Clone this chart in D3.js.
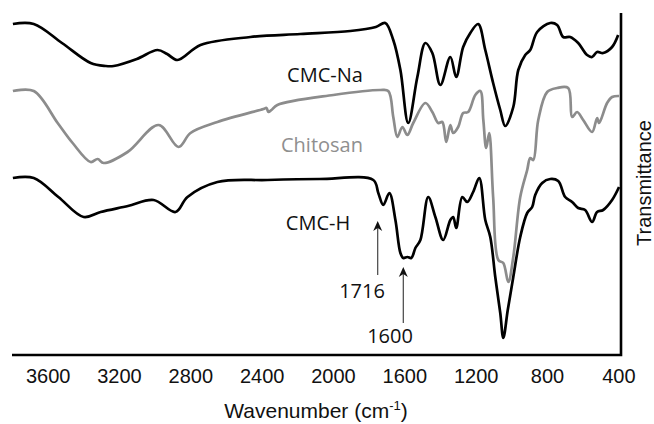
<!DOCTYPE html>
<html>
<head>
<meta charset="utf-8">
<script src="https://cdn.jsdelivr.net/npm/d3@7"></script>
<style>
  body { margin: 0; background: #fff; }
  svg { display: block; }
</style>
</head>
<body>
<svg id="chart" width="654" height="424"></svg>
<script>
// FTIR spectra, transmittance in arbitrary units (curves are offset)
const naWave = [3795, 3678, 3520, 3359, 3275, 3230, 3100, 2984, 2930, 2872, 2743, 2463, 2183, 1903, 1760, 1707,
  1662, 1622, 1578, 1527, 1482, 1443, 1398, 1342, 1309, 1270, 1230, 1186, 1146, 1102, 1062, 1034,
  989, 961, 922, 894, 855, 782, 743, 709, 670, 625, 575, 547, 519, 485, 435, 401];
const naVal = [331, 331, 312, 292, 289, 289, 296, 305, 301, 295, 310, 318, 321, 324, 328, 332,
  315, 285, 232, 278, 312, 302, 270, 298, 278, 308, 322, 331, 305, 272, 245, 229,
  248, 285, 300, 305, 323, 332, 330, 318, 318, 312, 300, 298, 303, 302, 308, 320];

const chiWave = [3795, 3678, 3544, 3460, 3359, 3320, 3286, 3152, 2978, 2866, 2799, 2648, 2390, 2373, 2362, 2345,
  2312, 1998, 1735, 1690, 1662, 1639, 1611, 1583, 1550, 1482, 1443, 1410, 1387, 1365, 1342, 1326,
  1298, 1270, 1242, 1202, 1174, 1157, 1141, 1124, 1102, 1073, 1045, 1017, 989, 950, 911, 894,
  877, 849, 799, 743, 681, 659, 631, 597, 547, 519, 508, 463, 435, 396];
const chiVal = [264, 264, 232, 212, 193, 196, 192, 203, 230, 208, 222, 233, 246, 247, 243, 245,
  250, 260, 265, 264, 238, 218, 228, 220, 232, 252, 243, 232, 233, 213, 230, 222,
  228, 242, 243, 260, 264, 235, 207, 222, 158, 95, 92, 73, 98, 158, 185, 197,
  195, 235, 263, 267, 267, 238, 243, 235, 223, 237, 232, 252, 258, 259];

const hWave = [3795, 3678, 3540, 3398, 3303, 3150, 3006, 2883, 2816, 2648, 2368, 2075, 1774, 1746, 1718, 1684,
  1650, 1622, 1606, 1583, 1561, 1538, 1510, 1466, 1426, 1382, 1342, 1326, 1309, 1275, 1247, 1214,
  1180, 1146, 1118, 1090, 1062, 1045, 1020, 989, 950, 911, 883, 866, 827, 782, 737, 698,
  659, 625, 586, 547, 519, 485, 435, 396];
const hVal = [177, 177, 158, 138, 143, 149, 155, 143, 158, 173, 175, 176, 175, 162, 150, 162,
  135, 102, 97, 98, 97, 107, 115, 158, 138, 115, 135, 138, 127, 158, 153, 163,
  177, 135, 118, 78, 42, 17, 45, 78, 118, 142, 148, 160, 172, 176, 174, 158,
  153, 147, 145, 133, 143, 145, 155, 168];

const xTicks = [3600, 3200, 2800, 2400, 2000, 1600, 1200, 800, 400];

const series = [
  { name: "CMC-Na", wave: naWave, val: naVal, color: "#000", lx: 325, ly: 82 },
  { name: "Chitosan", wave: chiWave, val: chiVal, color: "#8c8c8c", lx: 322, ly: 152 },
  { name: "CMC-H", wave: hWave, val: hVal, color: "#000", lx: 318, ly: 230 }
];

const peaks = [
  { label: "1716", ax: 377.7, y0: 275, y1: 221, tx: 362, ty: 298 },
  { label: "1600", ax: 403.3, y0: 323, y1: 267, tx: 390, ty: 343 }
];

const svg = d3.select("#chart");
const mLeft = 12, mRight = 621, mTop = 13, mBottom = 355;

const x = d3.scaleLinear().domain([3800, 385]).range([mLeft, mRight]);
const y = d3.scaleLinear().domain([0, 342]).range([mBottom, mTop]);

const line = d3.line()
  .x(d => x(d[0]))
  .y(d => y(d[1]))
  .curve(d3.curveCatmullRom.alpha(0.5));

series.forEach(s => {
  const pts = s.wave.map((w, i) => [w, s.val[i]]);
  svg.append("path")
    .datum(pts)
    .attr("fill", "none")
    .attr("stroke", s.color)
    .attr("stroke-width", 2.7)
    .attr("stroke-linejoin", "round")
    .attr("d", line);
  svg.append("text")
    .attr("x", s.lx).attr("y", s.ly)
    .attr("text-anchor", "middle")
    .attr("font-family", "'Open Sans', sans-serif")
    .attr("font-size", 20)
    .attr("fill", s.name == "Chitosan" ? "#8f8f8f" : "#111")
    .text(s.name);
});

// frame: bottom axis and right axis line
const xAxis = svg.append("g")
  .attr("transform", "translate(0," + mBottom + ")")
  .call(d3.axisBottom(x).tickValues(xTicks).tickFormat(d3.format("d")).tickSize(0).tickPadding(14));
xAxis.select(".domain").remove();
xAxis.selectAll("text")
  .attr("font-family", "'Liberation Sans', Arial, sans-serif")
  .attr("font-size", 20)
  .attr("fill", "#111");

svg.append("path")
  .attr("d", "M" + mLeft + "," + mBottom + "H" + mRight + "V" + mTop)
  .attr("fill", "none")
  .attr("stroke", "#000")
  .attr("stroke-width", 2.6);

// arrows to the peaks
peaks.forEach(p => {
  svg.append("line")
    .attr("x1", p.ax).attr("x2", p.ax)
    .attr("y1", p.y0).attr("y2", p.y1 + 3)
    .attr("stroke", "#444").attr("stroke-width", 1.2);
  svg.append("path")
    .attr("d", "M" + (p.ax - 4.5) + "," + (p.y1 + 10) + "L" + p.ax + "," + p.y1 + "L" + (p.ax + 4.5) + "," + (p.y1 + 10) + "L" + p.ax + "," + (p.y1 + 7) + "Z")
    .attr("fill", "#111");
  svg.append("text")
    .attr("x", p.tx).attr("y", p.ty)
    .attr("text-anchor", "middle")
    .attr("font-family", "'Open Sans', sans-serif")
    .attr("font-size", 20)
    .attr("fill", "#111")
    .text(p.label);
});

// axis titles
const xt = svg.append("text")
  .attr("x", 316).attr("y", 418)
  .attr("text-anchor", "middle")
  .attr("font-family", "'Liberation Sans', Arial, sans-serif")
  .attr("font-size", 21)
  .attr("fill", "#111");
xt.append("tspan").text("Wavenumber (cm");
xt.append("tspan").attr("font-size", 13).attr("dy", -8).text("-1");
xt.append("tspan").attr("dy", 8).text(")");

svg.append("text")
  .attr("transform", "translate(651,183) rotate(-90)")
  .attr("text-anchor", "middle")
  .attr("font-family", "'Liberation Sans', Arial, sans-serif")
  .attr("font-size", 20)
  .attr("fill", "#111")
  .text("Transmittance");
</script>
</body>
</html>
